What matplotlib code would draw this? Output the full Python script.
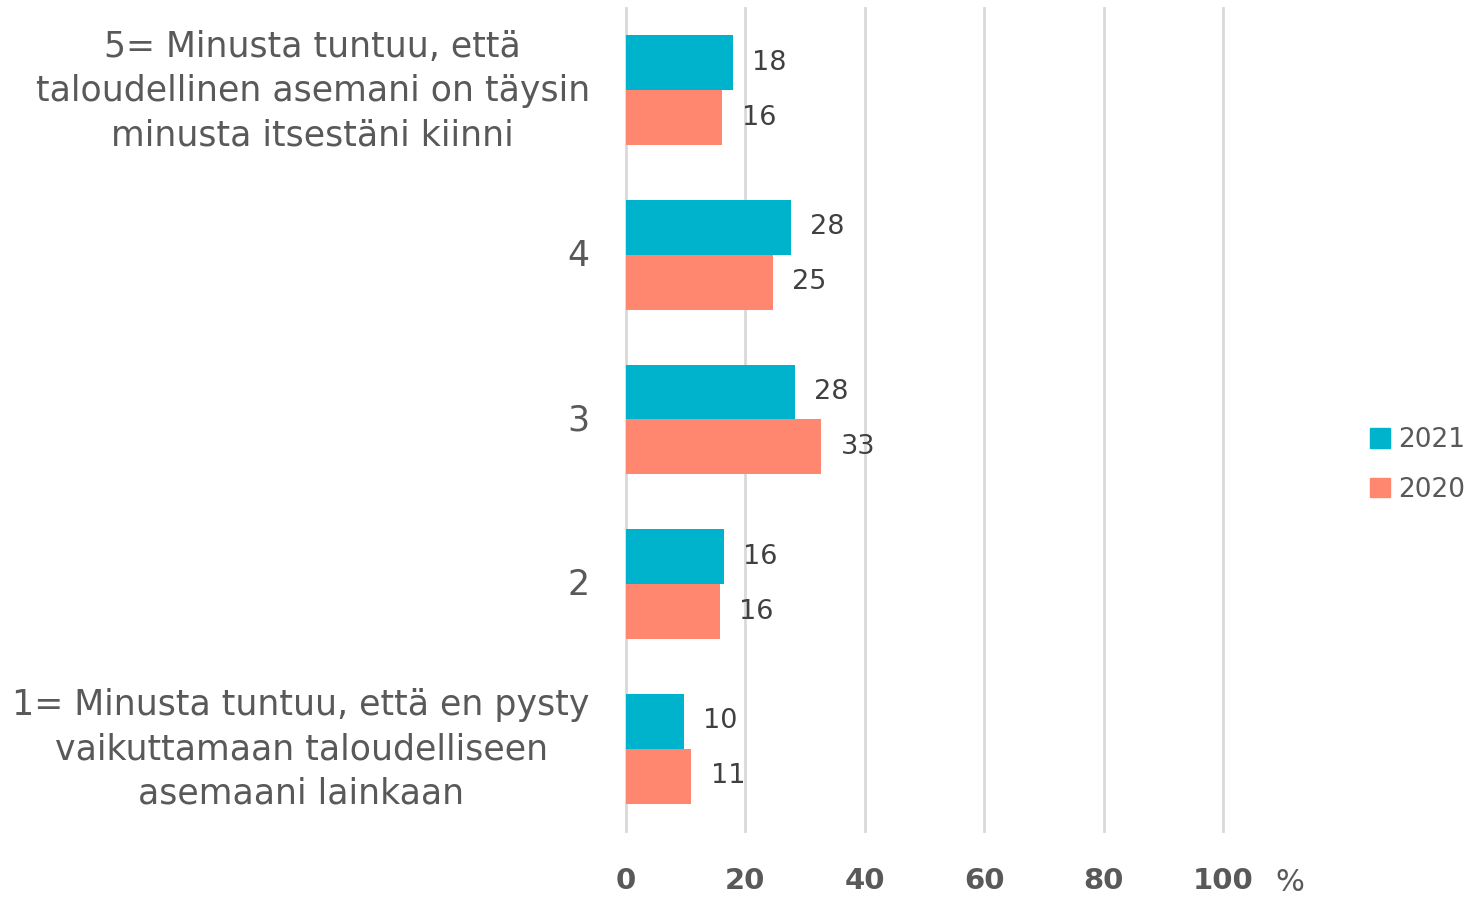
import matplotlib
matplotlib.use("Agg")
import matplotlib.pyplot as plt
import numpy as np
from matplotlib.patches import Patch

categories = ["1= Minusta tuntuu, että en pysty\nvaikuttamaan taloudelliseen\nasemaani lainkaan",
              "2", "3", "4",
              "5= Minusta tuntuu, että\ntaloudellinen asemani on täysin\nminusta itsestäni kiinni"]
series_names = ["2021", "2020"]
values_2021 = [9.7, 16.4, 28.3, 27.6, 17.9]
values_2020 = [10.9, 15.7, 32.7, 24.6, 16.1]
x_ticks = [0, 20, 40, 60, 80, 100]

col_2021 = "#00B3CC"
col_2020 = "#FF8770"
txt = "#595959"

plt.rcParams['font.family'] = ['DejaVu Sans']

fig = plt.figure(figsize=(14.7, 9), dpi=100)
ax = fig.add_axes([626/1470, 1-831/900, (1223-626)/1470, (831-8)/900])

y = np.arange(len(categories))
h = 1/3
b1 = ax.barh(y + h/2, values_2021, height=h, color=col_2021, zorder=3)
b2 = ax.barh(y - h/2, values_2020, height=h, color=col_2020, zorder=3)

for bars, vals in ((b1, values_2021), (b2, values_2020)):
    for rect, v in zip(bars, vals):
        ax.annotate(f"{round(v):d}", xy=(rect.get_width(), rect.get_y() + rect.get_height()/2),
                    xytext=(14, 0), textcoords="offset points", ha="left", va="center",
                    fontsize=19.5, color="#404040")

ax.set_xlim(0, 100)
ax.set_ylim(-0.5, len(categories) - 0.5)
ax.set_xticks(x_ticks)
ax.set_xticklabels([str(t) for t in x_ticks], fontsize=21, fontweight="bold", color=txt)
ax.set_yticks(y)
ax.set_yticklabels([])
ax.tick_params(axis="both", length=0)
ax.tick_params(axis="x", pad=26)
ax.grid(axis="x", color="#D9D9D9", linewidth=2, zorder=0)
for gl in ax.get_xgridlines():
    gl.set_clip_on(False)
for s in ax.spines.values():
    s.set_visible(False)

ytrans = ax.get_yaxis_transform()
for yi, lab in zip(y, categories):
    ax.annotate(lab, xy=(0, yi), xycoords=ytrans, xytext=(-26, -0.5), textcoords="offset points",
                ha="right", va="center", fontsize=25, color=txt, multialignment="center",
                linespacing=1.38, annotation_clip=False)

ax.text(1.112, -0.062, "%", transform=ax.transAxes, fontsize=22, color=txt, ha="center", va="center")

handles = [Patch(color=col_2021, label="2021"), Patch(color=col_2020, label="2020")]
fig.legend(handles=handles, loc="center left", bbox_to_anchor=(1357/1470, 1-465/900),
           frameon=False, fontsize=19, labelcolor=txt, handlelength=0.75, handleheight=0.75,
           handletextpad=0.3, labelspacing=0.9, borderpad=0)

fig.savefig("out.png", dpi=100)
